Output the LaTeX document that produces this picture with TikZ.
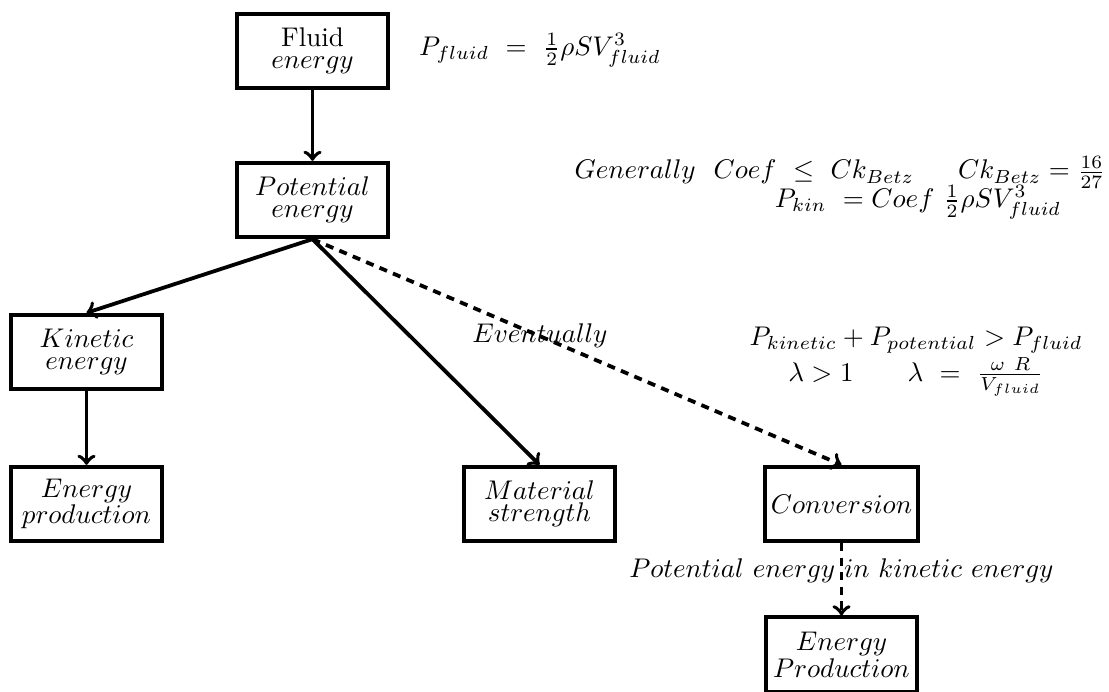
\documentclass[tikz,border=0pt]{standalone}
\usepackage{amsmath}
\begin{document}
\begin{tikzpicture}[x=0.3704pt,y=-0.3704pt,
  box/.style={draw,line width=1.5pt,minimum width=56pt,minimum height=27.5pt,inner sep=2pt,align=center,font=\fontsize{10}{8.1}\selectfont},
  conn/.style={->,line width=1.4pt},
  dconn/.style={->,line width=1.4pt,dash pattern=on 3pt off 2.4pt},
  eq/.style={inner sep=0pt}]
\useasboundingbox (0,0) rectangle (1109,692);
\node[box] (fluid) at (312.5,51) {\textrm{Fluid}\\$energy$};
\node[box] (pot) at (312.5,200) {$Potential$\\$energy$};
\node[box] (kin) at (86.5,352) {$Kinetic$\\$energy$};
\node[box] (prod) at (86.5,504) {$Energy$\\$production$};
\node[box] (mat) at (539.5,504) {$Material$\\$strength$};
\node[box] (conv) at (841.5,504) {$Conversion$};
\node[box] (eprod) at (841.5,654.5) {$Energy$\\$Production$};
\draw[conn] (fluid) -- (pot);
\draw[conn] (pot.south) -- (kin.north);
\draw[conn] (pot.south) -- (mat.north);
\draw[dconn] (pot.south) -- node[pos=0.43,inner sep=0pt] (ev) {$Eventually$} (conv.north);
\draw[conn] (kin) -- (prod);
\draw[dconn] (conv) -- node[inner sep=0pt,yshift=3pt] (pe) {$Potential\ energy\ in\ kinetic\ energy$} (eprod);
\node[eq] (e1) at (540,50) {$P_{fluid}\ =\ \frac{1}{2}\rho S V_{fluid}^3$};
\node[eq,anchor=base west] (e2a) at (574,179) {$Generally\ \ Coef\ \leq\ Ck_{Betz}$};
\node[eq,anchor=base east] (e2b) at (1106,179) {$Ck_{Betz}=\frac{16}{27}$};
\node[eq] (e3) at (918,202) {$P_{kin}\ = Coef\ \frac{1}{2}\rho S V^3_{fluid}$};
\node[eq] (e4) at (916,340) {$P_{kinetic}+P_{potential}>P_{fluid}$};
\node[eq] (e5) at (916,377) {$\lambda>1\qquad\lambda\ =\ \frac{\omega\ R}{V_{fluid}}$};
\end{tikzpicture}
\end{document}
